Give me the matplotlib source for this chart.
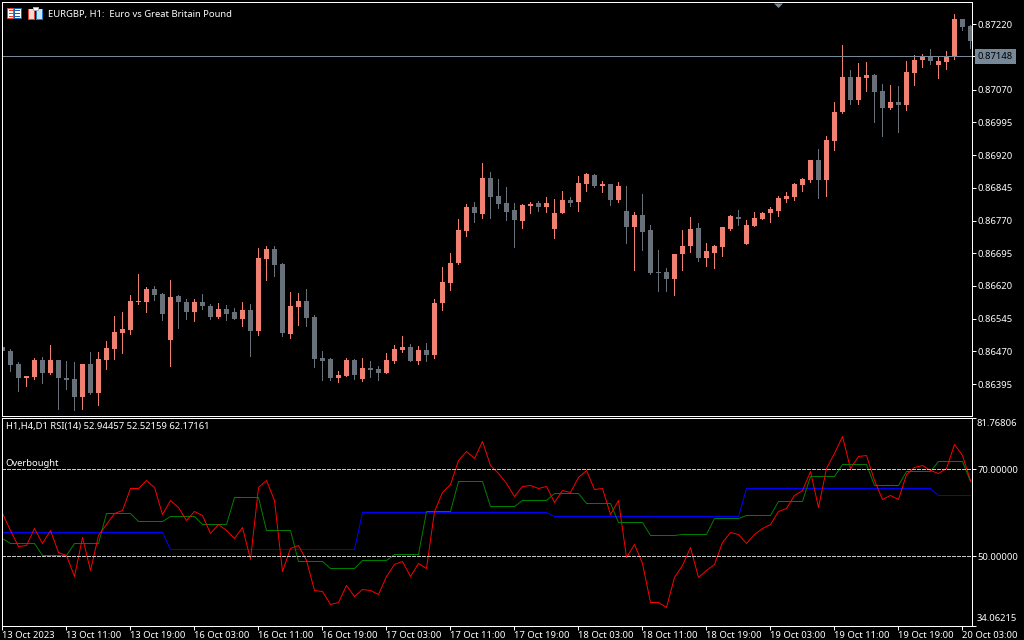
import numpy as np
import matplotlib
matplotlib.use("Agg")
import matplotlib.pyplot as plt
from matplotlib.patches import Rectangle

# prices in points (1e-5), bar by bar
opens = [86480,86471,86441,86409,86411,86450,86420,86450,86409,86406,
         86365,86441,86374,86450,86475,86512,86519,86583,86583,86613,
         86601,86496,86597,86583,86560,86583,86574,86549,86567,86560,
         86544,86565,86516,86682,86704,86670,86510,86572,86585,86549,
         86455,86452,86409,86413,86450,86406,86431,86429,86420,86447,
         86473,86479,86447,86473,86461,86580,86626,86672,86745,86800,
         86784,86867,86826,86810,86793,86768,86803,86810,86800,86750,
         86787,86816,86812,86853,86874,86848,86853,86816,86791,86755,
         86782,86748,86651,86651,86636,86693,86711,86752,86684,86695,
         86709,86750,86778,86716,86757,86773,86787,86791,86819,86823,
         86851,86862,86908,86862,86952,87018,87099,87046,87096,87103,
         87066,87027,87041,87034,87108,87137,87147,87126,87133,87144,
         87231,87215]
highs = [86488,86475,86445,86413,86455,86457,86484,86450,86448,86445,
         86441,86468,86468,86494,86551,86560,86599,86647,86617,86620,
         86604,86633,86599,86590,86590,86601,86578,86581,86576,86569,
         86583,86578,86707,86711,86711,86672,86606,86604,86613,86553,
         86471,86455,86425,86454,86452,86454,86447,86436,86466,86484,
         86505,86486,86482,86489,86589,86663,86695,86773,86807,86812,
         86903,86881,86865,86846,86810,86807,86812,86814,86823,86819,
         86837,86823,86871,86878,86876,86860,86853,86858,86848,86789,
         86830,86759,86702,86661,86693,86748,86778,86764,86718,86713,
         86755,86782,86794,86771,86789,86789,86801,86826,86835,86856,
         86867,86908,86933,86963,87041,87172,87115,87131,87133,87105,
         87082,87080,87078,87135,87149,87151,87163,87147,87158,87243,
         87231,87218]
lows = [86465,86425,86379,86390,86406,86397,86418,86338,86384,86335,
        86338,86372,86347,86429,86452,86466,86510,86578,86560,86588,
        86542,86436,86523,86544,86539,86567,86544,86546,86542,86544,
        86528,86459,86507,86633,86643,86505,86500,86530,86528,86434,
        86404,86404,86400,86413,86406,86402,86411,86404,86420,86443,
        86468,86447,86441,86447,86454,86564,86610,86670,86734,86766,
        86775,86775,86798,86771,86709,86752,86787,86791,86789,86729,
        86787,86803,86791,86837,86846,86835,86805,86812,86718,86656,
        86702,86647,86608,86608,86599,86656,86697,86677,86665,86661,
        86688,86748,86759,86716,86757,86773,86766,86780,86812,86817,
        86837,86858,86821,86826,86931,87016,87037,87037,87066,86995,
        86963,87025,86972,87023,87080,87121,87128,87096,87117,87140,
        87206,87165]
closes = [86471,86439,86409,86413,86450,86420,86450,86409,86404,86365,
          86441,86374,86452,86478,86514,86521,86585,86585,86613,86599,
          86555,86594,86583,86560,86583,86574,86549,86567,86555,86544,
          86565,86516,86684,86704,86668,86512,86574,86585,86546,86452,
          86448,86409,86416,86450,86415,86431,86427,86420,86450,86475,
          86479,86447,86473,86461,86580,86628,86672,86748,86800,86787,
          86867,86823,86807,86789,86771,86805,86807,86800,86810,86787,
          86816,86810,86855,86876,86848,86853,86816,86848,86755,86782,
          86743,86649,86649,86635,86693,86711,86750,86684,86700,86711,
          86755,86780,86773,86759,86775,86787,86796,86821,86826,86853,
          86865,86908,86862,86954,87018,87099,87046,87099,87103,87064,
          87027,87041,87034,87110,87137,87147,87135,87135,87147,87231,
          87213,87181]

rsi_h1 = [59.89,56.05,52.30,52.53,56.59,52.99,55.98,51.00,50.23,45.56,
          54.37,46.93,54.90,57.36,60.04,60.57,65.63,65.63,67.47,65.86,
          59.66,62.87,61.42,58.28,60.34,59.43,55.29,57.36,56.13,54.14,
          56.67,49.31,65.94,67.47,62.87,46.55,51.84,52.53,49.08,42.18,
          41.95,38.97,39.43,43.33,40.80,42.41,42.18,41.42,45.40,48.16,
          48.85,45.40,48.39,47.32,60.34,64.71,66.55,72.07,74.14,72.53,
          76.44,70.92,69.08,66.78,63.79,66.09,66.32,65.63,66.09,62.41,
          65.17,64.71,68.16,69.77,65.40,65.63,59.66,62.87,49.77,52.76,
          48.39,39.43,39.43,38.28,45.17,48.01,52.07,45.17,46.78,48.16,
          53.22,55.52,55.06,52.99,55.06,56.44,57.36,60.34,61.03,64.02,
          65.17,69.54,61.26,70.23,73.68,77.59,70.23,72.99,73.22,67.47,
          63.10,64.02,63.10,68.85,70.46,70.92,69.77,69.08,70.23,75.75,
          73.22,67.47]
rsi_h4 = ([54.14] + [52.99]*4 + [50.23]*4 + [52.99]*4 + [59.89]*4 + [58.05]*4
          + [59.20]*4 + [57.36]*4 + [63.56]*4 + [55.98]*4 + [48.85]*4 + [47.24]*4
          + [49.08]*4 + [50.46]*4 + [60.34]*4 + [67.24]*4 + [61.49]*4 + [62.87]*4
          + [64.48]*4 + [62.18]*4 + [57.82]*4 + [54.83]*4 + [55.06]*4 + [58.74]*4
          + [59.43]*4 + [62.64]*4 + [68.39]*4 + [71.15]*4 + [66.32]*4 + [69.54]*4
          + [71.84]*4 + [67.24])
rsi_d1 = [55.52]*21 + [51.61]*24 + [60.11]*24 + [59.20]*24 + [65.63]*24 + [64.02]*5

price_ticks = [0.87220,0.87070,0.86995,0.86920,0.86845,0.86770,0.86695,0.86620,0.86545,0.86470,0.86395]
rsi_ticks = [81.76806,70.0,50.0,34.06215]
time_labels = ["13 Oct 2023","13 Oct 11:00","13 Oct 19:00","16 Oct 03:00","16 Oct 11:00","16 Oct 19:00",
               "17 Oct 03:00","17 Oct 11:00","17 Oct 19:00","18 Oct 03:00","18 Oct 11:00","18 Oct 19:00",
               "19 Oct 03:00","19 Oct 11:00","19 Oct 19:00","20 Oct 03:00"]
last_price = 0.87148

UP = "#F08072"
DOWN = "#68717A"
W, H = 1024, 640

plt.rcParams["font.family"] = ["Noto Sans", "DejaVu Sans"]
plt.rcParams["font.size"] = 6.8
plt.rcParams["path.simplify"] = False

fig = plt.figure(figsize=(W/100, H/100), dpi=100, facecolor="black")

def panel(left, top, right, bottom):
    ax = fig.add_axes([left/W, 1-bottom/H, (right-left)/W, (bottom-top)/H], facecolor="black")
    for s in ax.spines.values():
        s.set_color("white")
        s.set_linewidth(0.72)
        s.set_antialiased(False)
    ax.yaxis.tick_right()
    ax.tick_params(axis="y", colors="white", length=3, width=0.72, pad=1.5)
    return ax

# spines snap a pixel to the right and down, so the panels start a little early
ax = panel(1.6, 1.6, 971.5, 416.2)
rsi = panel(1.6, 417.8, 971.5, 625.8)
x_lims = (-0.1, 121.125)

x = np.arange(len(opens))
o = np.array(opens)/1e5
h = np.array(highs)/1e5
l = np.array(lows)/1e5
c = np.array(closes)/1e5
colors = [UP if cc >= oo else DOWN for oo, cc in zip(o, c)]

ax.vlines(x, l, h, colors=colors, linewidth=0.72, antialiased=False)
ax.bar(x, np.abs(c-o), bottom=np.minimum(o, c), width=0.625, color=colors, antialiased=False, linewidth=0)
ax.axhline(last_price, color="#778899", linewidth=0.72, antialiased=False)
ax.plot([97], [0.87268], marker=[(-1, 0), (1, 0), (0, -1)], markersize=6.5, color="#778899",
        clip_on=False, linewidth=0, markeredgewidth=0)
ax.set_xlim(*x_lims)
ax.set_ylim(0.863215, 0.872718)
ax.set_xticks([])
ax.set_yticks(price_ticks + [last_price])
ax.set_yticklabels(["%.5f" % p for p in price_ticks] + ["%.5f" % last_price])
ax.get_yticklabels()[-1].set_bbox(dict(facecolor="#778899", edgecolor="none", pad=2.0))
ax.get_yticklabels()[-1].set_color("black")

# snap keeps the flat stretches of the indicator lines one pixel wide
rsi.plot(x, rsi_d1, color="#0000FF", linewidth=0.7, snap=True)
rsi.plot(x, rsi_h4, color="#008000", linewidth=0.7, snap=True)
rsi.plot(x, rsi_h1, color="#FF0000", linewidth=0.7, snap=True)
rsi.axhline(70, color="#C8C8C8", linewidth=0.72, dashes=(3, 2), antialiased=False)
rsi.axhline(50, color="#C8C8C8", linewidth=0.72, dashes=(3, 2), antialiased=False)
rsi.set_xlim(*x_lims)
rsi.set_ylim(34.06215, 81.76806)
rsi.set_yticks(rsi_ticks)
# the two end labels sit inside the panel height, placed by hand below
rsi.set_yticklabels(["", "%.5f" % rsi_ticks[1], "%.5f" % rsi_ticks[2], ""])
rsi.annotate("%.5f" % rsi_ticks[0], xy=(1, 1), xycoords="axes fraction", xytext=(5, -6),
             textcoords="offset pixels", color="white", va="center", annotation_clip=False)
rsi.annotate("%.5f" % rsi_ticks[3], xy=(1, 0), xycoords="axes fraction", xytext=(5, 7),
             textcoords="offset pixels", color="white", va="center", annotation_clip=False)
rsi.set_xticks(x[::8])
rsi.set_xticklabels(time_labels, ha="left")
rsi.tick_params(axis="x", colors="white", length=3, width=0.72, pad=1)

fig.text(48/W, 1-14/H, "EURGBP, H1:  Euro vs Great Britain Pound", color="white", va="center")
fig.text(6/W, 1-427/H, "H1,H4,D1 RSI(14) 52.94457 52.52159 62.17161", color="white", va="center")
fig.text(5.5/W, 1-464/H, "Overbought", color="white", va="center")

# the two little toolbar icons in the corner
def box(x0, y0, x1, y1, color):
    fig.add_artist(Rectangle((x0/W, 1-y1/H), (x1-x0)/W, (y1-y0)/H, facecolor=color, edgecolor="none",
                             transform=fig.transFigure, antialiased=False))

box(7, 8, 14, 19, "#E8402A")
box(14, 8, 22, 19, "#1E5FA8")
box(8, 9, 13, 18, "white")
box(15, 9, 21, 18, "white")
for yy in (10, 13, 16):
    box(9, yy, 13, yy+1, "#E8402A")
    box(15, yy, 20, yy+1, "#1E5FA8")
box(28, 9, 35, 20, "#E8402A")
box(29, 9, 34, 19, "#F8D8D0")
box(36, 9, 43, 20, "#1E7FC8")
box(37, 9, 42, 19, "#C8E4F8")
box(33, 7, 39, 11, "#B0B0B0")
box(34, 8, 38, 10, "white")

fig.savefig("out.png", dpi=100, facecolor="black")
